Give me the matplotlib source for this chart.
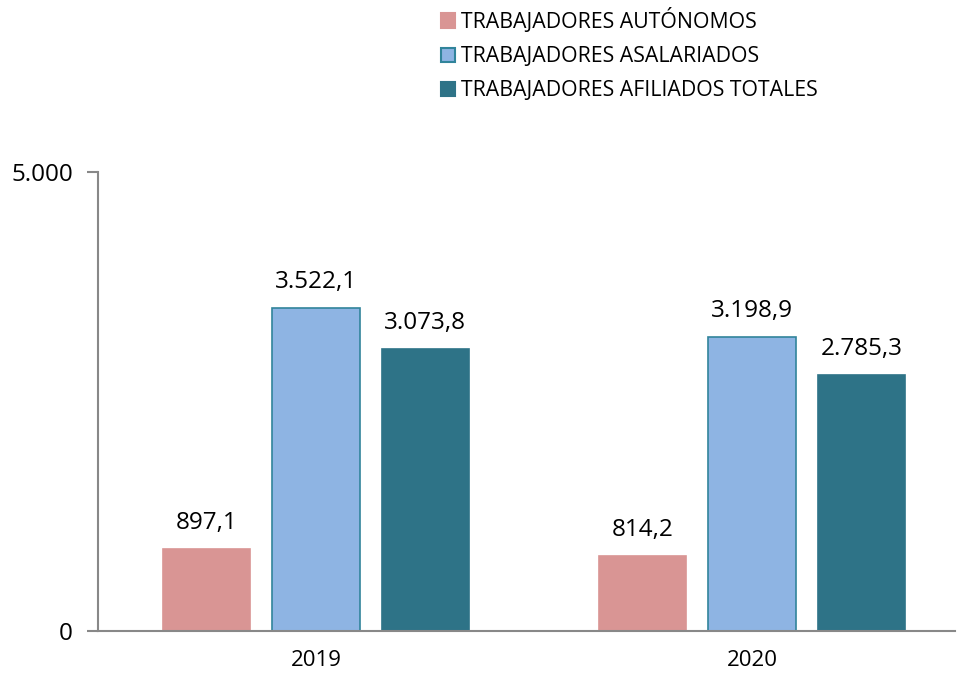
import numpy as np
import matplotlib.pyplot as plt
from matplotlib.patches import Patch

years = ["2019", "2020"]
series = ["TRABAJADORES AUTÓNOMOS", "TRABAJADORES ASALARIADOS", "TRABAJADORES AFILIADOS TOTALES"]
autonomos = [897.1, 814.2]
asalariados = [3522.1, 3198.9]
totales = [3073.8, 2785.3]

colores = ["#D99594", "#8EB4E3", "#2E7387"]
bordes = ["#D99594", "#31849B", "#2E7387"]

plt.rcParams['font.family'] = ['Open Sans', 'DejaVu Sans']

fig = plt.figure(figsize=(9.57, 6.74), dpi=100)
ax = fig.add_axes([98/957, 43/674, 857/957, 459/674])

x = np.arange(len(years))
w = 0.2
paso = 0.251

def fmt(v):
    s = f"{v:,.1f}"
    return s.replace(",", "X").replace(".", ",").replace("X", ".")

for i, vals in enumerate([autonomos, asalariados, totales]):
    pos = x + (i - 1) * paso
    bars = ax.bar(pos, vals, width=w, color=colores[i], edgecolor=bordes[i], linewidth=1.2)
    for b, v in zip(bars, vals):
        ax.annotate(fmt(v), (b.get_x() + b.get_width()/2, v), xytext=(0, 10),
                    textcoords="offset points", ha="center", va="bottom", fontsize=17.5)

ax.set_xlim(-0.5, 1.5 - 15/436)
ax.set_ylim(0, 5000)
ax.set_yticks([0, 5000])
ax.set_yticklabels(["0", "5.000"], fontsize=17.5)
ax.set_xticks(x)
ax.set_xticklabels(years, fontsize=16)
ax.tick_params(axis="x", length=0, pad=14)
ax.tick_params(axis="y", length=8, color="#888888", width=1.5, pad=10)
for s in ["top", "right"]:
    ax.spines[s].set_visible(False)
for s in ["left", "bottom"]:
    ax.spines[s].set_color("#888888")
    ax.spines[s].set_linewidth(1.5)

handles = [Patch(facecolor=colores[i], edgecolor=bordes[i], linewidth=1.5) for i in range(3)]
fig.legend(handles, series, loc="upper left", bbox_to_anchor=(441/957, 1 - 8/674),
           frameon=False, fontsize=15.3, handlelength=0.65, handleheight=0.65,
           handletextpad=0.3, labelspacing=0.62, borderpad=0, borderaxespad=0)

fig.savefig("out.png", dpi=100)
